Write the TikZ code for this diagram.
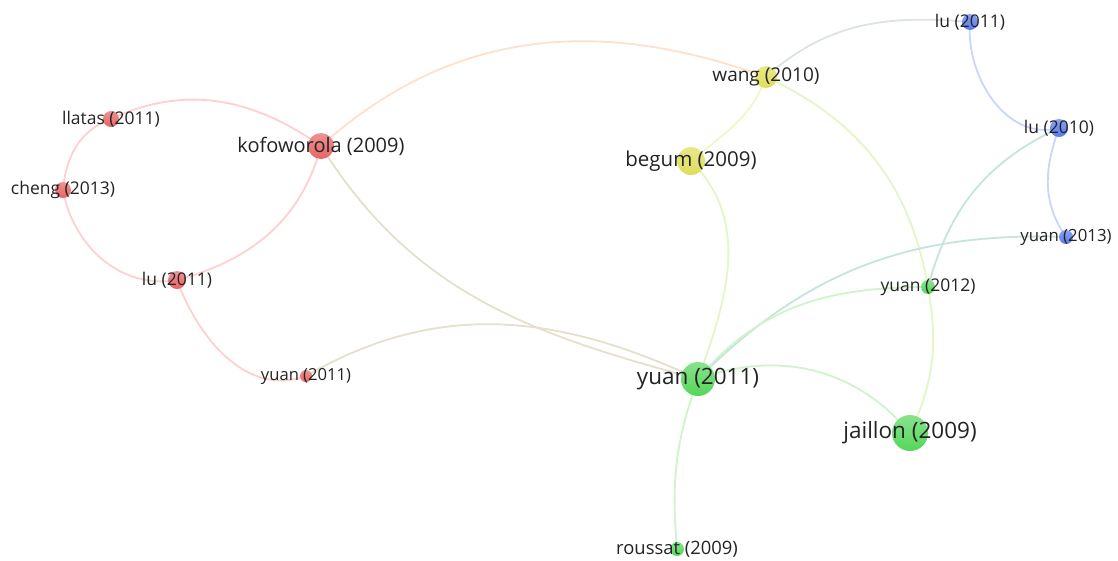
\documentclass[tikz,border=0pt]{standalone}
\usepackage{fontspec}
\setmainfont{Open Sans}
\usetikzlibrary{backgrounds}

\definecolor{vred}{RGB}{232,100,100}
\definecolor{vyel}{RGB}{222,222,90}
\definecolor{vgre}{RGB}{85,214,90}
\definecolor{vblu}{RGB}{88,122,236}
\definecolor{ered}{RGB}{255,208,208}
\definecolor{eyel}{RGB}{242,246,195}
\definecolor{egre}{RGB}{206,245,202}
\definecolor{eblu}{RGB}{200,214,250}
\definecolor{eredyel}{RGB}{255,224,204}
\definecolor{eredgre}{RGB}{228,224,205}
\definecolor{eyelgre}{RGB}{228,245,198}
\definecolor{eblugre}{RGB}{196,228,222}
\definecolor{eyelblu}{RGB}{220,228,226}
\definecolor{txt}{RGB}{35,35,35}

\tikzset{
  dot/.style={circle, inner sep=0pt, draw=none, minimum size=#1},
  rdot/.style={dot=#1, top color=vred!70!white, bottom color=vred},
  ydot/.style={dot=#1, top color=vyel!70!white, bottom color=vyel},
  gdot/.style={dot=#1, top color=vgre!70!white, bottom color=vgre},
  bdot/.style={dot=#1, top color=vblu!70!white, bottom color=vblu},
  lab/.style={text=txt, inner sep=0pt, font=\fontsize{#1}{#1}\selectfont},
  link/.style={line width=1.8pt, draw=#1}
}

\begin{document}
\begin{tikzpicture}
\useasboundingbox (0,0) rectangle (1118pt,-560pt);
\begin{scope}[x=1pt,y=1pt]
% red cluster
\node[rdot=16pt] (llatas) at (111,-119) {};
\node[rdot=16pt] (cheng) at (63,-190) {};
\node[rdot=26pt] (kofo) at (321,-146) {};
\node[rdot=18pt] (lured) at (177,-280) {};
\node[rdot=12pt] (yuanred) at (306,-376) {};
% yellow cluster
\node[ydot=22pt] (wang) at (766,-77) {};
\node[ydot=28pt] (begum) at (691,-161) {};
% blue cluster
\node[bdot=16pt] (luelf) at (970,-22) {};
\node[bdot=18pt] (luten) at (1059,-128) {};
\node[bdot=14pt] (yuanthi) at (1066,-237) {};
% green cluster
\node[gdot=14pt] (yuantwe) at (928,-287) {};
\node[gdot=34pt] (yuanelf) at (698,-379) {};
\node[gdot=36pt] (jaillon) at (910,-433) {};
\node[gdot=14pt] (roussat) at (677,-549) {};

% labels
\node[lab=17.5] (llatas-l) at (llatas) {llatas (2011)};
\node[lab=17.5] (cheng-l) at (cheng) {cheng (2013)};
\node[lab=20] (kofo-l) at (kofo) {kofoworola (2009)};
\node[lab=17.5] (lured-l) at (lured) {lu (2011)};
\node[lab=16.6] (yuanred-l) at (yuanred) {yuan (2011)};
\node[lab=19] (wang-l) at (wang) {wang (2010)};
\node[lab=20.5] (begum-l) at (begum) {begum (2009)};
\node[lab=17.5] (luelf-l) at (luelf) {lu (2011)};
\node[lab=17.5] (luten-l) at (luten) {lu (2010)};
\node[lab=16.8] (yuanthi-l) at (yuanthi) {yuan (2013)};
\node[lab=17.5] (yuantwe-l) at (yuantwe) {yuan (2012)};
\node[lab=22.5] (yuanelf-l) at (yuanelf) {yuan (2011)};
\node[lab=22.5] (jaillon-l) at (jaillon) {jaillon (2009)};
\node[lab=18.4] (roussat-l) at (roussat) {roussat (2009)};

\begin{scope}[on background layer]
\draw[link=ered] (llatas.center) to[out=25,in=145] (kofo.center);
\draw[link=ered] (llatas.center) to[out=200,in=85] (cheng.center);
\draw[link=ered] (cheng.center) to[out=-80,in=190] (lured.center);
\draw[link=ered] (lured.center) to[out=15,in=-105] (kofo.center);
\draw[link=ered] (lured.center) to[out=-70,in=200] (yuanred.center);
\draw[link=eredyel] (kofo.center) to[out=42,in=160] (wang.center);
\draw[link=eredgre] (kofo.center) to[out=-58,in=165] (yuanelf.center);
\draw[link=eredgre] (yuanred.center) to[out=30,in=155] (yuanelf.center);
\draw[link=eyel] (wang.center) to[out=-110,in=40] (begum.center);
\draw[link=eyelblu] (wang.center) to[out=42,in=175] (luelf.center);
\draw[link=eyelgre] (wang.center) to[out=-25,in=100] (yuantwe.center)
  to[out=-80,in=65] (jaillon.center);
\draw[link=eblu] (luelf.center) to[out=-95,in=195] (luten.center);
\draw[link=eblu] (luten.center) to[out=-110,in=125] (yuanthi.center);
\draw[link=eblugre] (luten.center) to[out=205,in=75] (yuantwe.center);
\draw[link=eblugre] (yuanelf.center) to[out=45,in=178] (yuanthi.center);
\draw[link=egre] (yuanelf.center) to[out=50,in=180] (yuantwe.center);
\draw[link=eyelgre] (begum.center) to[out=-45,in=70] (yuanelf.center);
\draw[link=egre] (yuanelf.center) to[out=20,in=130] (jaillon.center);
\draw[link=egre] (yuanelf.center) to[out=-110,in=95] (roussat.center);
\end{scope}
\end{scope}
\end{tikzpicture}
\end{document}
